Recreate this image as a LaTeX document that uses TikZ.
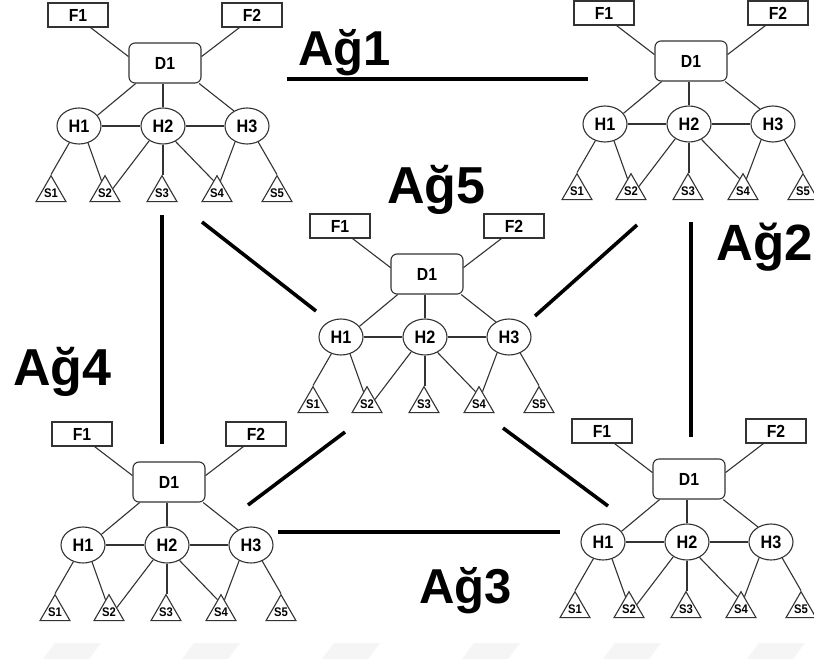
\documentclass[tikz,border=0pt]{standalone}
\usepackage{fontspec}
\setmainfont{Liberation Sans}
\newfontfamily\condfont[FakeStretch=0.9]{Liberation Sans}
\usetikzlibrary{shapes.geometric,calc}
\tikzset{
  lnk/.style={line width=1.1pt, draw=black!80},
  fn/.style={draw=black!80, line width=1.1pt, rectangle, minimum width=60pt, minimum height=24pt, inner sep=0pt, font=\condfont\fontsize{17.5}{17}\selectfont\bfseries},
  dn/.style={draw=black!80, line width=1.1pt, rectangle, rounded corners=6pt, minimum width=72pt, minimum height=40pt, inner sep=0pt, font=\condfont\fontsize{17.5}{17}\selectfont\bfseries},
  hn/.style={draw=black!80, line width=1.1pt, ellipse, minimum width=44pt, minimum height=36pt, inner sep=0pt, font=\condfont\fontsize{18}{17}\selectfont\bfseries},
  sn/.style={draw=black!80, line width=1.1pt, regular polygon, regular polygon sides=3, minimum size=34.6pt, inner sep=0pt,
    label={[inner sep=0pt, font=\condfont\fontsize{12.5}{12}\selectfont\bfseries]center:#1}},
  thick link/.style={line width=3.6pt, draw=black, line cap=butt},
  bigtxt/.style={anchor=base west, inner sep=0pt, font=\fontsize{#1}{#1}\selectfont\bfseries},
  net/.pic={
    \node[hn] (H2) at (0,0) {H2};
    \node[hn] (H1) at (-84,0) {H1};
    \node[hn] (H3) at (84,0) {H3};
    \node[dn] (D1) at (2,-63) {D1};
    \node[fn] (F1) at (-85,-111) {F1};
    \node[fn] (F2) at (89,-111) {F2};
    \node[sn=S1] (S1) at (-112,67) {};
    \node[sn=S2] (S2) at (-58,67) {};
    \node[sn=S3] (S3) at (-1,67) {};
    \node[sn=S4] (S4) at (54,67) {};
    \node[sn=S5] (S5) at (114,67) {};
    \draw[lnk] (F1.-45) -- (D1.170);
    \draw[lnk] (F2.-135) -- (D1.10);
    \draw[lnk] (D1.-145) -- (H1.30);
    \draw[lnk] (H2.north) -- (H2.north |- D1.south);
    \draw[lnk] (D1.-31) -- (H3.131);
    \draw[lnk] (H1.east) -- (H2.west);
    \draw[lnk] (H2.east) -- (H3.west);
    \draw[lnk] (H1.-120) -- (S1.corner 1);
    \draw[lnk] (H1.-62) -- ($(S2.corner 1)!0.22!(S2.corner 2)$);
    \draw[lnk] (H2.-133) -- (S2.side 3);
    \draw[lnk] (H2.south) -- (H2.south |- S3.corner 1);
    \draw[lnk] (H2.-51) -- ($(S4.corner 1)!0.22!(S4.corner 2)$);
    \draw[lnk] (H3.-127) -- ($(S4.corner 1)!0.22!(S4.corner 3)$);
    \draw[lnk] (H3.-55) -- (S5.corner 1);
  }
}
\begin{document}
\begin{tikzpicture}[x=1pt, y=-1pt]
  \useasboundingbox (0,0) rectangle (814,659);
  \fill[white] (0,0) rectangle (814,659);
  % faint watermark bars
  \foreach \wx in {43,182,322,462,603,747}
    \fill[black!4] (\wx+12,643) -- (\wx+58,643) -- (\wx+46,659) -- (\wx,659) -- cycle;
  % networks
  \pic (tl) at (163,126) {net};
  \pic (tr) at (689,124) {net};
  \pic (c) at (425,337) {net};
  \pic (bl) at (167,545) {net};
  \pic (br) at (687,542) {net};
  % end points of the links between networks
  \coordinate (a1s) at (287,79);
  \coordinate (a1e) at (588,79);
  \coordinate (a4s) at (162,215);
  \coordinate (a4e) at (162,444);
  \coordinate (a2s) at (691,222);
  \coordinate (a2e) at (691,437);
  \coordinate (a3s) at (278,532);
  \coordinate (a3e) at (560,532);
  \coordinate (d1s) at (202,222);
  \coordinate (d1e) at (316,311);
  \coordinate (d2s) at (637,225);
  \coordinate (d2e) at (535,316);
  \coordinate (d3s) at (345,432);
  \coordinate (d3e) at (248,505);
  \coordinate (d4s) at (503,428);
  \coordinate (d4e) at (608,506);
  \draw[thick link] (a1s) -- (a1e);
  \draw[thick link] (a4s) -- (a4e);
  \draw[thick link] (a2s) -- (a2e);
  \draw[thick link] (a3s) -- (a3e);
  \draw[thick link] (d1s) -- (d1e);
  \draw[thick link] (d2s) -- (d2e);
  \draw[thick link] (d3s) -- (d3e);
  \draw[thick link] (d4s) -- (d4e);
  % labels
  \node[bigtxt=49] (l1) at (298,65) {Ağ1};
  \node[bigtxt=52] (l5) at (387,203) {Ağ5};
  \node[bigtxt=52] (l4) at (13,385) {Ağ4};
  \node[bigtxt=51] (l2) at (716,260) {Ağ2};
  \node[bigtxt=49] (l3) at (419,603) {Ağ3};
\end{tikzpicture}
\end{document}
